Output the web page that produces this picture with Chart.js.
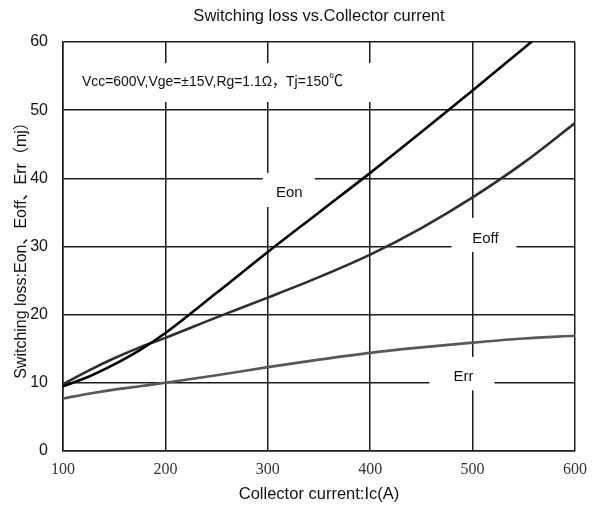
<!DOCTYPE html>
<html>
<head>
<meta charset="utf-8">
<script src="https://cdn.jsdelivr.net/npm/chart.js@4.4.1/dist/chart.umd.min.js"></script>
<style>
  html, body { margin: 0; padding: 0; background: #fff; }
  #wrap { width: 596px; height: 508px; }
</style>
</head>
<body>
<div id="wrap"><canvas id="c" width="596" height="508"></canvas></div>
<script>
// ---- data ----
const currents = [100, 125, 150, 175, 200, 250, 300, 350, 400, 450, 500, 550, 600];
const eon  = [9.5, 10.9, 12.7, 14.8, 17.3, 23.2, 29.2, 35.0, 40.8, 46.8, 52.9, 59.1, 65.3];
const eoff = [9.8, 11.8, 13.6, 15.2, 16.6, 19.6, 22.5, 25.5, 28.8, 32.7, 37.2, 42.3, 48.1];
const err  = [7.7, 8.4, 9.0, 9.5, 10.0, 11.1, 12.3, 13.4, 14.4, 15.2, 15.9, 16.5, 16.9];
const seriesNames = ['Eon', 'Eoff', 'Err'];
const xTicks = [100, 200, 300, 400, 500, 600];
const yTicks = [0, 10, 20, 30, 40, 50, 60];
const conditionText = 'Vcc=600V,Vge=\u00B115V,Rg=1.1\u03A9\uFF0CTj=150\u2103';
const titleText = 'Switching loss vs.Collector current';
const xTitle = 'Collector current:Ic(A)';
const yTitle = 'Switching loss:Eon\u3001Eoff\u3001Err\uFF08mj\uFF09';

const pts = arr => currents.map((x, i) => ({ x: x, y: arr[i] }));

const GRID = '#1c1c1c';
const SANS = '"Liberation Sans", Arial, "Noto Sans CJK SC", sans-serif';

// inline labels with white boxes (box & text anchors in data units)
const labelPlugin = {
  id: 'boxedLabels',
  beforeDatasetsDraw(chart, args, opts) {
    const ctx = chart.ctx, xs = chart.scales.x, ys = chart.scales.y;
    ctx.save();
    opts.items.forEach(it => {
      const x0 = xs.getPixelForValue(it.box[0]), x1 = xs.getPixelForValue(it.box[1]);
      const y0 = ys.getPixelForValue(it.box[2]), y1 = ys.getPixelForValue(it.box[3]);
      ctx.fillStyle = '#fff';
      ctx.fillRect(Math.min(x0, x1), Math.min(y0, y1), Math.abs(x1 - x0), Math.abs(y1 - y0));
      ctx.fillStyle = it.color || '#111';
      ctx.font = it.font;
      ctx.textAlign = it.align || 'center';
      ctx.textBaseline = 'middle';
      const tx = xs.getPixelForValue(it.x), ty = ys.getPixelForValue(it.y);
      if (it.maxWidth) ctx.fillText(it.text, tx, ty, it.maxWidth);
      else ctx.fillText(it.text, tx, ty);
    });
    ctx.restore();
  }
};

new Chart(document.getElementById('c'), {
  type: 'line',
  data: {
    datasets: [
      { label: seriesNames[0], data: pts(eon),  borderColor: '#000',    borderWidth: 2.6 },
      { label: seriesNames[1], data: pts(eoff), borderColor: '#2e2e2e', borderWidth: 2.6 },
      { label: seriesNames[2], data: pts(err),  borderColor: '#585858', borderWidth: 2.6 }
    ]
  },
  options: {
    responsive: false,
    animation: false,
    devicePixelRatio: 1,
    layout: { padding: { left: 0, right: 20, top: 0, bottom: 0 } },
    elements: {
      point: { radius: 0, hitRadius: 0 },
      line: { cubicInterpolationMode: 'monotone', fill: false }
    },
    plugins: {
      legend: { display: false },
      tooltip: { enabled: false },
      title: {
        display: true,
        fullSize: false,
        text: titleText,
        color: '#111',
        font: { family: SANS, size: 16.5, weight: 'normal' },
        padding: { top: 7, bottom: 15.2 }
      },
      boxedLabels: {
        items: [
          { text: conditionText, x: 118.5, y: 54.1, box: [111, 420, 51.2, 56.9], align: 'left',
            font: '15.5px ' + SANS, color: '#111', maxWidth: 261 },
          { text: seriesNames[0], x: 321, y: 37.8, box: [295, 346, 35.8, 40.8], font: '15px ' + SANS },
          { text: seriesNames[1], x: 512.5, y: 31.1, box: [479.4, 542.8, 29.2, 34.2], font: '15px ' + SANS },
          { text: seriesNames[2], x: 491, y: 10.85, box: [457.9, 521.3, 8.9, 13.8], font: '15px ' + SANS }
        ]
      }
    },
    scales: {
      x: {
        type: 'linear',
        min: 100, max: 600,
        afterBuildTicks: s => { s.ticks = xTicks.map(v => ({ value: v })); },
        afterFit: s => { s.height = 57; },
        grid: { color: GRID, lineWidth: 1.5, drawTicks: false },
        border: { display: true, color: GRID, width: 1.5 },
        ticks: { color: '#333', padding: 9, font: { family: '"Liberation Serif", "Times New Roman", serif', size: 16 } },
        title: { display: true, text: xTitle, color: '#111', padding: { top: 0, bottom: 4 },
                 font: { family: SANS, size: 16.5 } }
      },
      y: {
        type: 'linear',
        min: 0, max: 60,
        afterBuildTicks: s => { s.ticks = yTicks.map(v => ({ value: v })); },
        afterFit: s => { s.width = 63; },
        grid: { color: GRID, lineWidth: 1.5, drawTicks: false },
        border: { display: true, color: GRID, width: 1.5 },
        ticks: { color: '#111', padding: 15, font: { family: SANS, size: 16 } },
        title: { display: true, text: yTitle, color: '#111', padding: { top: 12, bottom: 0 },
                 font: { family: SANS, size: 16 } }
      }
    }
  },
  plugins: [labelPlugin]
});
</script>
</body>
</html>
